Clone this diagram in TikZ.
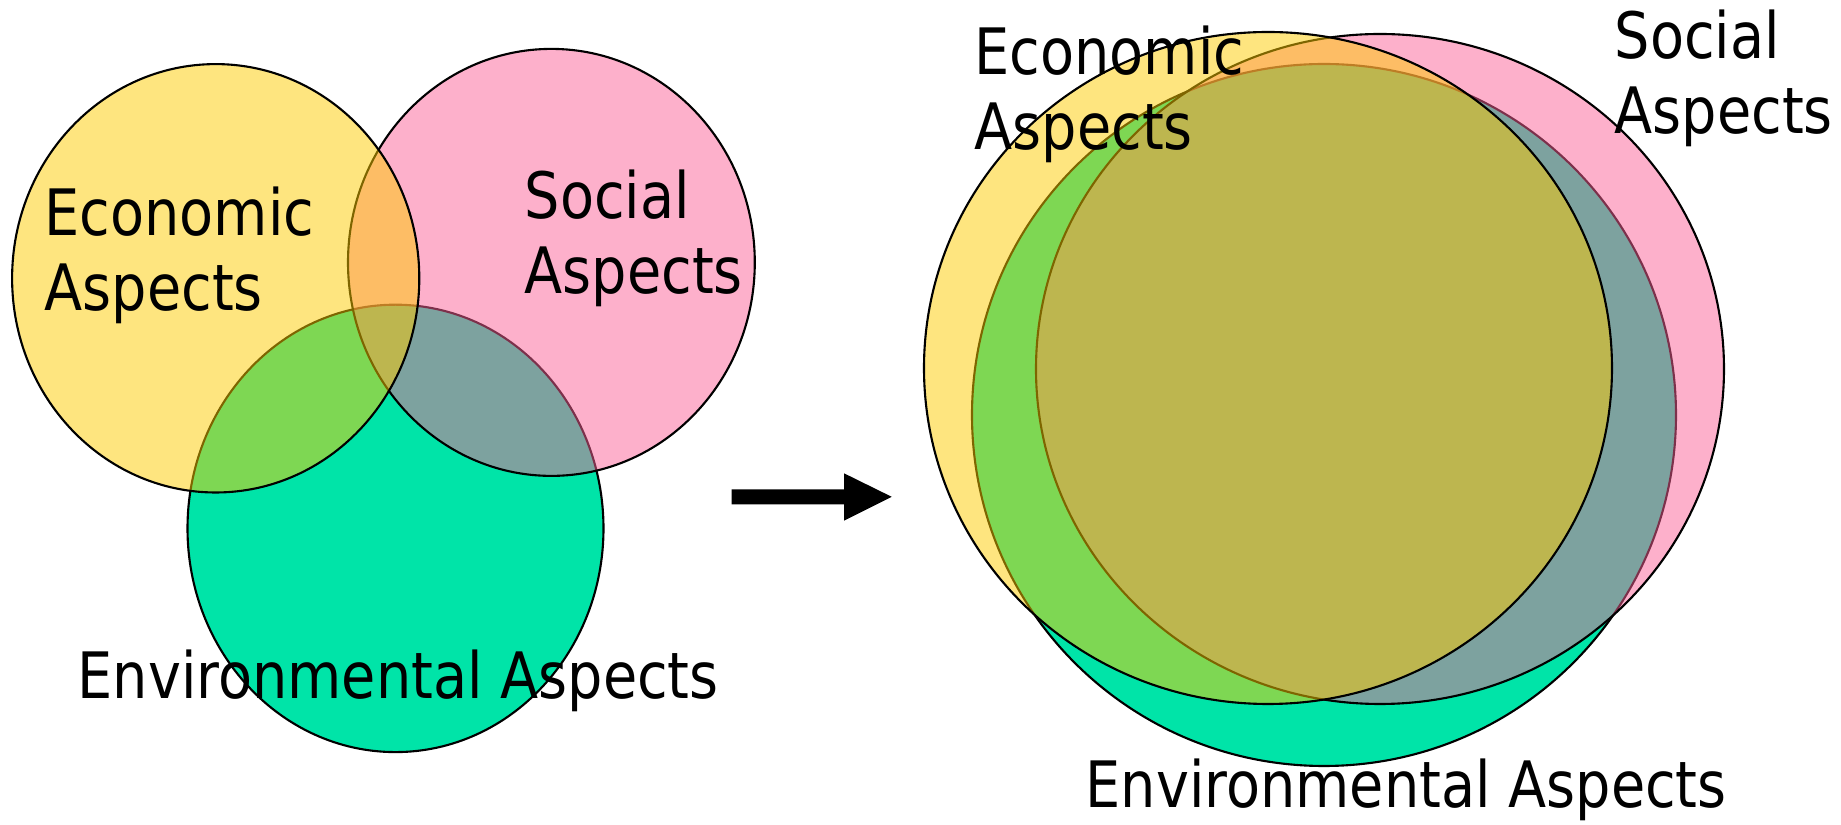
\documentclass[tikz,border=0pt]{standalone}
\usepackage{fontspec}
\setmainfont{DejaVu Sans}[FakeStretch=0.87]
\definecolor{ecoY}{RGB}{253,203,0}
\definecolor{socP}{RGB}{251,97,151}
\definecolor{envG}{RGB}{0,228,168}
\begin{document}
\begin{tikzpicture}[x=0.01cm,y=-0.01cm,
  ring/.style={draw=black,line width=0.6pt},
  envring/.style={ring,fill=envG},
  socring/.style={ring,fill=socP,fill opacity=0.5},
  ecoring/.style={ring,fill=ecoY,fill opacity=0.5},
  lbl/.style={inner sep=0pt,align=left,font=\fontsize{18.2pt}{21.6pt}\selectfont}]
\useasboundingbox (0,0) rectangle (1841,825);
% left diagram
\draw[envring] (395.5,528.4) ellipse [x radius=208,y radius=223.7];
\draw[socring] (551.4,262.4) ellipse [x radius=203.4,y radius=213.5];
\draw[ecoring] (215.7,278.3) ellipse [x radius=203.6,y radius=214.2];
% right diagram
\draw[envring] (1324,415) ellipse [x radius=352,y radius=351];
\draw[socring] (1380,369) ellipse [x radius=344,y radius=335];
\draw[ecoring] (1268,368) ellipse [x radius=344,y radius=336];
% arrow
\fill[black] (731.7,489.3) -- (844,489.3) -- (844,473.3) -- (891.7,496.8) -- (844,520.7) -- (844,504.3) -- (731.7,504.3) -- cycle;
% labels (base anchor = baseline of the last line)
\node[lbl,anchor=base west] (econL) at (44,311) {Economic\\Aspects};
\node[lbl,anchor=base west] (socL) at (524,294) {Social\\Aspects};
\node[lbl,anchor=base west] (envL) at (77,699) {Environmental Aspects};
\node[lbl,anchor=base west] (econR) at (974,150) {Economic\\Aspects};
\node[lbl,anchor=base west] (socR) at (1614,134) {Social\\Aspects};
\node[lbl,anchor=base west] (envR) at (1085,808) {Environmental Aspects};
\end{tikzpicture}
\end{document}
